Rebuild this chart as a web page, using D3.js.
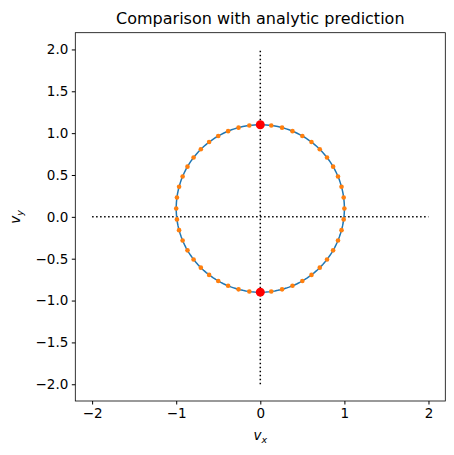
<!DOCTYPE html>
<html><head><meta charset="utf-8">
<script src="https://cdn.jsdelivr.net/npm/d3@7"></script>
<style>body{margin:0;background:#fff}text{font-family:"DejaVu Sans",sans-serif}</style>
</head><body>
<script>
// circle of the analytic prediction: center and radius
let center = [0, 0.1], radius = 1;
// sample angles (degrees) of the numeric points
let angles = [0,7.5,15,22.5,30,37.5,45,52.5,60,67.5,75,82.5,90,97.5,105,112.5,120,127.5,135,142.5,150,157.5,165,172.5,
              180,187.5,195,202.5,210,217.5,225,232.5,240,247.5,255,262.5,270,277.5,285,292.5,300,307.5,315,322.5,330,337.5,345,352.5];
let redPoints = [[0, 1.1], [0, -0.9]];
let hLine = [[-2, 0], [2, 0]], vLine = [[0, -2], [0, 2]];
let xTicks = [-2, -1, 0, 1, 2];
let yTicks = [-2, -1.5, -1, -0.5, 0, 0.5, 1, 1.5, 2];

let w = 454, h = 455;
let svg = d3.select('body').append('svg').attr('width', w).attr('height', h);
let x = d3.scaleLinear().domain([-2.2, 2.2]).range([75.3, 445.3]);
let y = d3.scaleLinear().domain([-2.2, 2.2]).range([401, 32.7]);

let line = d3.line().x(d => x(d[0])).y(d => y(d[1]));
let dotted = [hLine, vLine];
svg.selectAll('.ref').data(dotted).enter().append('path')
   .attr('d', line).attr('fill', 'none').attr('stroke', '#000')
   .attr('stroke-width', 1.5).attr('stroke-dasharray', '1.5,2.5');

let circ = d3.range(0, 361, 2).map(a => [center[0] + radius * Math.cos(a * Math.PI / 180), center[1] + radius * Math.sin(a * Math.PI / 180)]);
svg.append('path').attr('d', line(circ)).attr('fill', 'none').attr('stroke', '#1f77b4').attr('stroke-width', 1.5);

let pts = angles.map(a => [center[0] + radius * Math.cos(a * Math.PI / 180), center[1] + radius * Math.sin(a * Math.PI / 180)]);
svg.selectAll('.pt').data(pts).enter().append('circle')
   .attr('cx', d => x(d[0])).attr('cy', d => y(d[1])).attr('r', 2.3).attr('fill', '#ff7f0e');

svg.selectAll('.red').data(redPoints).enter().append('circle')
   .attr('cx', d => x(d[0])).attr('cy', d => y(d[1])).attr('r', 4.5).attr('fill', 'red');

svg.append('g').attr('transform', 'translate(0,401)')
   .call(d3.axisBottom(x).tickValues(xTicks).tickSize(3.5).tickPadding(3.5).tickFormat(d => d < 0 ? '\u2212' + (-d) : d))
   .call(g => g.selectAll('text').attr('font-size', 13.5).attr('fill', '#000'))
   .call(g => g.select('.domain').remove());
svg.append('g').attr('transform', 'translate(75.3,0)')
   .call(d3.axisLeft(y).tickValues(yTicks).tickSize(3.5).tickPadding(3.5).tickFormat(d => { let s = Math.abs(d).toFixed(1); return d < 0 ? '\u2212' + s : s; }))
   .call(g => g.selectAll('text').attr('font-size', 13.5).attr('fill', '#000'))
   .call(g => g.select('.domain').remove());

svg.append('rect').attr('x', 75.3).attr('y', 32.7).attr('width', 370).attr('height', 368.3)
   .attr('fill', 'none').attr('stroke', '#000').attr('stroke-width', 0.8);

svg.append('text').attr('x', 260.3).attr('y', 24).attr('text-anchor', 'middle').attr('font-size', 16).text('Comparison with analytic prediction');
svg.append('text').attr('x', 260.3).attr('y', 440).attr('text-anchor', 'middle').attr('font-size', 13.5).attr('font-style', 'italic')
   .html('v<tspan dy="3" font-size="9.5">x</tspan>');
svg.append('text').attr('transform', 'translate(20,217) rotate(-90)').attr('text-anchor', 'middle').attr('font-size', 13.5).attr('font-style', 'italic')
   .html('v<tspan dy="3" font-size="9.5">y</tspan>');
</script>
</body></html>
